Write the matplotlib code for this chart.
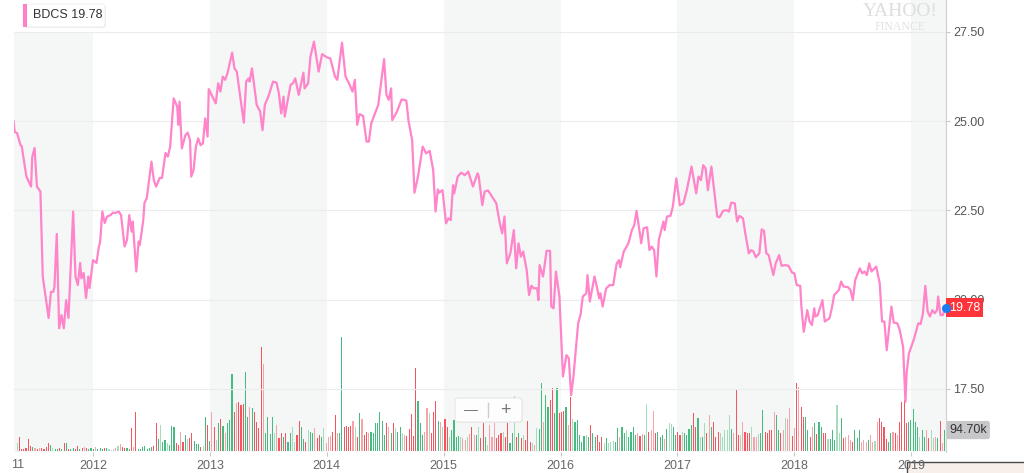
import numpy as np
import pandas as pd
import matplotlib
matplotlib.use('Agg')
import matplotlib.pyplot as plt
from matplotlib.patches import Rectangle, FancyBboxPatch
from matplotlib.transforms import blended_transform_factory, IdentityTransform

plt.rcParams['font.family'] = ['Liberation Sans', 'DejaVu Sans']

# BDCS close (decimal year, price), one pair per year
t_2011 = [2011.32, 2011.33, 2011.35, 2011.38, 2011.39, 2011.43, 2011.47, 2011.48, 2011.50, 2011.52,
          2011.55, 2011.57, 2011.62, 2011.64, 2011.66, 2011.67, 2011.69, 2011.71, 2011.73, 2011.75,
          2011.77, 2011.79, 2011.83, 2011.85, 2011.87, 2011.89, 2011.90, 2011.92, 2011.94, 2011.96, 2011.97]
p_2011 = [25.0, 24.7, 24.67, 24.33, 24.3, 23.45, 23.17, 24.0, 24.25, 23.17,
          23.03, 20.65, 19.49, 20.22, 20.22, 20.37, 21.84, 19.2, 19.57, 19.2,
          19.99, 19.49, 22.47, 20.65, 20.41, 21.03, 20.6, 20.75, 20.05, 20.65, 20.33]

t_2012 = [2012.00, 2012.03, 2012.05, 2012.06, 2012.08, 2012.10, 2012.12, 2012.15, 2012.17, 2012.19,
          2012.22, 2012.24, 2012.27, 2012.29, 2012.31, 2012.33, 2012.34, 2012.37, 2012.39, 2012.40,
          2012.43, 2012.44, 2012.46, 2012.50, 2012.52, 2012.54, 2012.57, 2012.59, 2012.62, 2012.64,
          2012.66, 2012.69, 2012.72, 2012.73, 2012.74, 2012.76, 2012.79, 2012.81, 2012.83, 2012.84,
          2012.86, 2012.88, 2012.90, 2012.92, 2012.94, 2012.96, 2012.98, 2012.99]
p_2012 = [21.11, 21.03, 21.49, 21.6, 22.47, 22.15, 22.33, 22.37, 22.44, 22.43,
          22.47, 22.37, 21.49, 21.67, 22.37, 21.91, 22.19, 20.79, 21.63, 21.53,
          22.23, 22.71, 22.85, 23.87, 23.35, 23.17, 23.41, 23.41, 24.11, 24.01,
          24.29, 25.64, 25.41, 24.9, 25.55, 24.24, 24.61, 24.68, 24.47, 23.45,
          23.63, 24.29, 24.52, 24.33, 24.38, 25.08, 24.57, 25.9]

t_2013 = [2013.05, 2013.07, 2013.09, 2013.11, 2013.13, 2013.15, 2013.19, 2013.21, 2013.23, 2013.29,
          2013.31, 2013.33, 2013.34, 2013.36, 2013.40, 2013.43, 2013.45, 2013.47, 2013.50, 2013.54,
          2013.57, 2013.59, 2013.61, 2013.63, 2013.64, 2013.69, 2013.71, 2013.73, 2013.76, 2013.80,
          2013.81, 2013.84, 2013.86, 2013.89, 2013.93, 2013.96]
p_2013 = [25.5, 26.06, 25.83, 26.25, 26.16, 26.34, 26.92, 26.48, 26.39, 24.96,
          26.11, 26.2, 26.11, 26.48, 25.46, 25.27, 24.75, 25.46, 25.69, 26.11,
          26.08, 25.78, 25.22, 25.69, 25.13, 26.02, 26.06, 26.2, 25.74, 26.36,
          25.92, 26.06, 26.81, 27.23, 26.39, 26.88]

t_2014 = [2014.00, 2014.03, 2014.07, 2014.09, 2014.13, 2014.16, 2014.19, 2014.22, 2014.24, 2014.26,
          2014.28, 2014.31, 2014.34, 2014.36, 2014.38, 2014.44, 2014.49, 2014.51, 2014.53, 2014.55,
          2014.56, 2014.60, 2014.64, 2014.68, 2014.70, 2014.73, 2014.75, 2014.78, 2014.82, 2014.85,
          2014.88, 2014.91, 2014.93, 2014.95, 2014.96, 2014.99]
p_2014 = [26.79, 26.76, 26.25, 26.16, 27.2, 26.25, 26.06, 25.83, 26.16, 24.9,
          25.2, 25.15, 24.43, 24.43, 24.94, 25.46, 26.74, 25.74, 25.6, 25.92,
          25.03, 25.27, 25.61, 25.58, 24.99, 24.47, 23.0, 23.45, 24.29, 24.1,
          24.17, 23.63, 22.47, 23.09, 23.0, 23.07]

t_2015 = [2015.02, 2015.04, 2015.06, 2015.08, 2015.09, 2015.12, 2015.15, 2015.18, 2015.21, 2015.25,
          2015.29, 2015.30, 2015.33, 2015.35, 2015.38, 2015.45, 2015.48, 2015.50, 2015.52, 2015.54,
          2015.57, 2015.60, 2015.62, 2015.64, 2015.66, 2015.68, 2015.71, 2015.73, 2015.75, 2015.77,
          2015.80, 2015.81, 2015.82, 2015.85, 2015.88, 2015.91, 2015.92, 2015.94, 2015.96, 2015.99]
p_2015 = [22.14, 22.28, 22.23, 23.21, 22.98, 23.45, 23.56, 23.49, 23.59, 23.17,
          23.54, 23.45, 22.65, 23.03, 23.06, 22.7, 22.14, 21.86, 22.33, 21.02,
          21.3, 21.95, 20.88, 21.58, 21.21, 21.35, 20.83, 20.13, 20.39, 20.32,
          20.32, 19.99, 20.97, 20.65, 21.37, 21.37, 19.81, 19.76, 20.79, 20.09]

t_2016 = [2016.01, 2016.02, 2016.05, 2016.07, 2016.09, 2016.11, 2016.15, 2016.17, 2016.19, 2016.22,
          2016.23, 2016.25, 2016.29, 2016.31, 2016.33, 2016.34, 2016.36, 2016.39, 2016.42, 2016.45,
          2016.48, 2016.50, 2016.51, 2016.54, 2016.58, 2016.61, 2016.63, 2016.65, 2016.69, 2016.71,
          2016.74, 2016.76, 2016.78, 2016.80, 2016.82, 2016.84, 2016.88, 2016.89, 2016.91, 2016.94,
          2016.96, 2016.99]
p_2016 = [18.59, 17.85, 18.45, 18.36, 17.33, 17.85, 19.34, 19.57, 20.09, 20.18,
          20.69, 19.95, 20.65, 20.37, 20.04, 20.18, 19.81, 20.32, 20.41, 20.41,
          21.02, 21.11, 20.91, 21.35, 21.58, 21.95, 22.09, 22.49, 21.58, 22.0,
          22.03, 21.39, 21.49, 21.39, 20.65, 21.67, 22.19, 21.95, 22.33, 22.35,
          22.61, 23.4]

t_2017 = [2017.02, 2017.05, 2017.08, 2017.12, 2017.14, 2017.16, 2017.18, 2017.20, 2017.22, 2017.24,
          2017.26, 2017.29, 2017.34, 2017.36, 2017.39, 2017.42, 2017.44, 2017.46, 2017.49, 2017.51,
          2017.53, 2017.56, 2017.58, 2017.61, 2017.63, 2017.65, 2017.67, 2017.70, 2017.72, 2017.74,
          2017.76, 2017.78, 2017.82, 2017.84, 2017.87, 2017.89, 2017.92, 2017.95, 2017.98]
p_2017 = [22.65, 22.7, 23.07, 23.73, 23.35, 22.98, 23.45, 23.35, 23.77, 23.68,
          23.07, 23.73, 22.33, 22.31, 22.49, 22.51, 22.47, 22.72, 22.7, 22.19,
          22.35, 22.28, 21.86, 21.3, 21.39, 21.35, 21.19, 21.3, 21.97, 21.93,
          21.3, 21.25, 20.69, 21.02, 21.25, 20.95, 20.97, 20.95, 20.76]

t_2018 = [2018.00, 2018.02, 2018.05, 2018.06, 2018.08, 2018.11, 2018.13, 2018.15, 2018.17, 2018.18,
          2018.20, 2018.24, 2018.26, 2018.30, 2018.32, 2018.34, 2018.38, 2018.40, 2018.42, 2018.46,
          2018.48, 2018.50, 2018.52, 2018.56, 2018.58, 2018.60, 2018.62, 2018.64, 2018.66, 2018.70,
          2018.73, 2018.75, 2018.77, 2018.79, 2018.83, 2018.85, 2018.88, 2018.90, 2018.93, 2018.95,
          2018.96, 2018.98]
p_2018 = [20.74, 20.41, 20.39, 19.81, 19.1, 19.71, 19.39, 19.29, 19.76, 19.53,
          19.57, 19.99, 19.39, 19.48, 19.76, 20.13, 20.27, 20.51, 20.37, 20.35,
          20.27, 19.99, 20.55, 20.88, 20.74, 20.79, 20.69, 21.02, 20.79, 20.93,
          20.46, 19.39, 19.39, 18.59, 19.81, 19.36, 19.34, 19.17, 18.68, 17.14,
          17.94, 18.5]

t_2019 = [2019.02, 2019.06, 2019.08, 2019.10, 2019.12, 2019.14, 2019.16, 2019.18, 2019.20, 2019.22,
          2019.23, 2019.25, 2019.27, 2019.29]
p_2019 = [18.87, 19.34, 19.32, 19.62, 20.39, 19.67, 19.53, 19.71, 19.62, 19.71,
          20.09, 19.57, 19.57, 19.78]

# weekly volume in thousands
vol_2011_2013 = [37.5, 64.5, 9, 9, 12, 52.5, 22.5, 19.5, 12, 9, 12, 12, 9, 19.5, 37.5, 27, 12, 7.5, 7.5, 12,
                 9, 34.5, 37.5, 7.5, 7.5, 12, 10.5, 24, 9, 12, 19.5, 12, 9, 12, 7.5, 19.5, 7.5, 12, 9, 12,
                 12, 10.5, 6, 7.5, 12, 22.5, 30, 19.5, 15, 12, 9, 102, 19.5, 174, 9, 7.5, 19.5, 22.5, 9, 12,
                 19.5, 22.5, 127.5, 52.5, 117, 42, 49.5, 34.5, 27, 112.5, 109.5, 37.5, 27, 87, 42, 72, 52.5,
                 57, 79.5, 45, 30, 31.5, 19.5, 22.5, 151.5, 117, 46.5, 177, 109.5, 49.5, 127.5, 142.5, 112.5,
                 79.5, 124.5, 139.5, 346.5, 177, 214.5, 222, 207, 211.5, 355.5, 154.5, 199.5, 192, 177, 132,
                 102, 468, 391.5, 79.5, 154.5, 76.5, 154.5, 79.5, 117, 57, 79.5, 61.5, 82.5, 42, 79.5, 109.5,
                 42, 72, 136.5, 109.5, 52.5, 42, 94.5, 87, 79.5, 102, 57, 72, 64.5, 102, 34.5, 64.5, 67.5,
                 87, 162, 82.5, 80]
vol_2014_2016 = [513, 109.5, 112.5, 106.5, 112.5, 136.5, 109.5, 64.5, 169.5, 142.5, 72, 87, 79.5, 87, 79.5,
                 124.5, 127.5, 177, 136.5, 72, 127.5, 109.5, 82.5, 124.5, 102, 87, 109.5, 79.5, 72, 67.5,
                 97.5, 165, 67.5, 373.5, 226.5, 124.5, 72, 87, 192, 169.5, 82.5, 177, 226.5, 136.5, 132,
                 109.5, 144, 109.5, 64.5, 94.5, 139.5, 64.5, 67.5, 61.5, 57, 49.5, 64.5, 76.5, 109.5, 72,
                 72, 109.5, 57, 124.5, 64.5, 27, 117, 64.5, 127.5, 57, 72, 79.5, 87, 64.5, 124.5, 34.5,
                 79.5, 247.5, 64.5, 79.5, 57, 72, 49.5, 136.5, 42, 34.5, 27, 102, 97.5, 306, 132, 252,
                 199.5, 229.5, 282, 169.5, 283.5, 169.5, 177, 181.5, 199.5, 117, 243, 142.5, 132, 139.5,
                 72, 42, 67.5, 72, 64.5, 117, 82.5, 64.5, 72, 42, 64.5, 34.5, 57, 37.5, 42, 45, 42, 102,
                 64.5, 109.5, 79.5, 94.5, 61.5, 87, 106.5, 72, 79.5, 67.5, 76.5, 72, 211.5, 87, 94.5, 180,
                 79.5, 87, 64.5, 72, 52.5, 97.5, 124.5, 121.5, 109.5, 72, 87]
vol_2017_2019 = [72, 87, 79.5, 72, 97.5, 117, 169.5, 109.5, 147, 64.5, 64.5, 127.5, 79.5, 162, 109.5, 132,
                 64.5, 87, 79.5, 64.5, 94.5, 94.5, 162, 97.5, 79.5, 277.5, 72, 72, 132, 87, 82.5, 79.5,
                 109.5, 61.5, 64.5, 76.5, 79.5, 184.5, 87, 82.5, 94.5, 94.5, 174, 162, 94.5, 79.5, 94.5,
                 147, 142.5, 192, 67.5, 102, 304.5, 289.5, 199.5, 154.5, 154.5, 94.5, 64.5, 109.5, 124.5,
                 76.5, 132, 109.5, 79.5, 79.5, 52.5, 52.5, 94.5, 49.5, 207, 79.5, 147, 57, 64.5, 72, 49.5,
                 42, 94.5, 57, 94.5, 42, 49.5, 42, 49.5, 72, 42, 46.5, 132, 147, 132, 109.5, 52.5, 42,
                 79.5, 87, 79.5, 72, 132, 222, 229.5, 124.5, 132, 139.5, 187.5, 132, 109.5, 64.5, 94.5,
                 61.5, 94.5, 57, 94.5, 57, 64.5, 57, 136.5, 37.5, 94.7]

years = [2012, 2013, 2014, 2015, 2016, 2017, 2018, 2019]
year_labels = ['2012', '2013', '2014', '2015', '2016', '2017', '2018', '2019']
shaded_years = [2011, 2013, 2015, 2017, 2019]
price_ticks = [17.5, 20.0, 22.5, 25.0, 27.5]
last_price = 19.78
last_volume = 94.70

t = np.array(t_2011 + t_2012 + t_2013 + t_2014 + t_2015 + t_2016 + t_2017 + t_2018 + t_2019)
p = np.array(p_2011 + p_2012 + p_2013 + p_2014 + p_2015 + p_2016 + p_2017 + p_2018 + p_2019)
vol = np.array(vol_2011_2013 + vol_2014_2016 + vol_2017_2019)

weeks = pd.date_range(end='2019-04-15', periods=len(vol), freq='7D')
vt = weeks.year + (weeks.dayofyear - 1) / 365.25

# bar colours from the weekly move of the close
close = np.interp(vt, t, p)
chg = np.diff(close, prepend=close[0])
colors = []
for c in chg:
    if c >= 0:
        colors.append('#45bb80' if c > 0.12 else '#a6dbbd')
    else:
        colors.append('#f4555f' if c < -0.12 else '#f8a3aa')

W, H = 1024, 473
fig = plt.figure(figsize=(W / 100, H / 100), dpi=100)
ax_v = fig.add_axes([14 / W, 21 / H, 932 / W, 452 / H])
ax = ax_v.twinx()

x0, x1 = 2011.324, 2019.297
ax_v.set_xlim(x0, x1)
ax_v.set_ylim(-4, 2030)
ax.set_ylim(15.735, 28.396)

for y in shaded_years:
    ax_v.axvspan(max(y, x0), min(y + 1, x1), color='#f5f6f6', lw=0, zorder=0)
ax_v.add_patch(Rectangle((x0, 1886), 2012 - x0, 200, fc='white', ec='none', zorder=0.5))

for v in price_ticks:
    ax.axhline(v, color='#ececec', lw=0.8, zorder=0)

ax_v.bar(vt, vol, width=0.0095, color=colors, lw=0, antialiased=False, zorder=2)
ax.plot(t, p, color='#ff84c9', lw=1.6, solid_joinstyle='round', zorder=3)

# axes styling
for s in ax_v.spines.values():
    s.set_visible(False)
for k, s in ax.spines.items():
    s.set_visible(k == 'right')
ax.spines['right'].set_color('#cfcfcf')

ax_v.set_xticks(years)
ax_v.set_xticklabels(year_labels)
ax_v.tick_params(axis='x', length=3, color='#c8c8c8', labelsize=9, labelcolor='#666', pad=3)
ax_v.set_yticks([])
ax.set_yticks(price_ticks)
ax.set_yticklabels([f'{v:.2f}' for v in price_ticks])
ax.tick_params(axis='y', length=3, color='#c8c8c8', labelsize=9, labelcolor='#555', pad=2)

# last price / volume tags
trans_p = blended_transform_factory(ax.transAxes, ax.transData)
ax.annotate(f'{last_price:.2f}', xy=(1, last_price), xycoords=trans_p, xytext=(3, 0),
            textcoords='offset pixels', ha='left', va='center', fontsize=9, color='white',
            bbox=dict(boxstyle='square,pad=0.25', fc='#ff333a', ec='none'),
            annotation_clip=False, zorder=6)
ax.plot([x1], [last_price], 'o', ms=5.5, color='#1f7bf2', clip_on=False, zorder=7)
trans_v = blended_transform_factory(ax_v.transAxes, ax_v.transData)
ax_v.annotate(f'{last_volume:.2f}k', xy=(1, last_volume), xycoords=trans_v, xytext=(3, 0),
              textcoords='offset pixels', ha='left', va='center', fontsize=9, color='#333',
              bbox=dict(boxstyle='round,pad=0.25,rounding_size=0.2', fc='#c7c7ca', ec='none'),
              annotation_clip=False, zorder=6)

px = IdentityTransform()

# legend chip (pixel coords, origin bottom-left)
fig.patches.append(FancyBboxPatch((24, 445), 82, 23, boxstyle='round,pad=0,rounding_size=3',
                                  transform=px, fc='#e4e4e4', ec='none', alpha=0.6))
fig.patches.append(FancyBboxPatch((23, 446), 82, 23, boxstyle='round,pad=0,rounding_size=3',
                                  transform=px, fc='white', ec='#ececec', lw=0.6))
fig.patches.append(Rectangle((23, 446), 4, 23, transform=px, fc='#ff7fc8', ec='none'))
fig.text(33 / W, 1 - 15.5 / H, 'BDCS 19.78', fontsize=9, color='#333', va='center')

# watermark
fig.text(900 / W, 1 - 11 / H, 'YAHOO!', fontsize=14, color='#dedede', ha='center', va='center',
         family='Liberation Serif')
fig.text(900 / W, 1 - 26.5 / H, 'FINANCE', fontsize=8.5, color='#e2e2e2', ha='center', va='center',
         family='Liberation Serif')

# zoom control
fig.patches.append(FancyBboxPatch((456, 50), 67, 24, boxstyle='round,pad=0,rounding_size=3',
                                  transform=px, fc='#e6e6e6', ec='none', alpha=0.5))
fig.patches.append(FancyBboxPatch((455, 51), 67, 24, boxstyle='round,pad=0,rounding_size=3',
                                  transform=px, fc='white', ec='#e4e4e4', lw=0.8, alpha=0.92))
fig.lines.append(plt.Line2D([488 / W, 488 / W], [56 / H, 70 / H], transform=fig.transFigure,
                            color='#cccccc', lw=1))
fig.text(471 / W, 63 / H, '\u2014', fontsize=10, color='#777', ha='center', va='center')
fig.text(505 / W, 63 / H, '+', fontsize=13, color='#777', ha='center', va='center')

fig.text(17.5 / W, 1 - 465 / H, '11', fontsize=9, color='#666', ha='center', va='center')
fig.patches.append(Rectangle((907 / W, -1 / H), 120 / W, 12 / H, transform=fig.transFigure,
                             fc='#f7efe9', ec='#4a4a4a', lw=1, zorder=-1))

fig.savefig('out.png', dpi=100)
